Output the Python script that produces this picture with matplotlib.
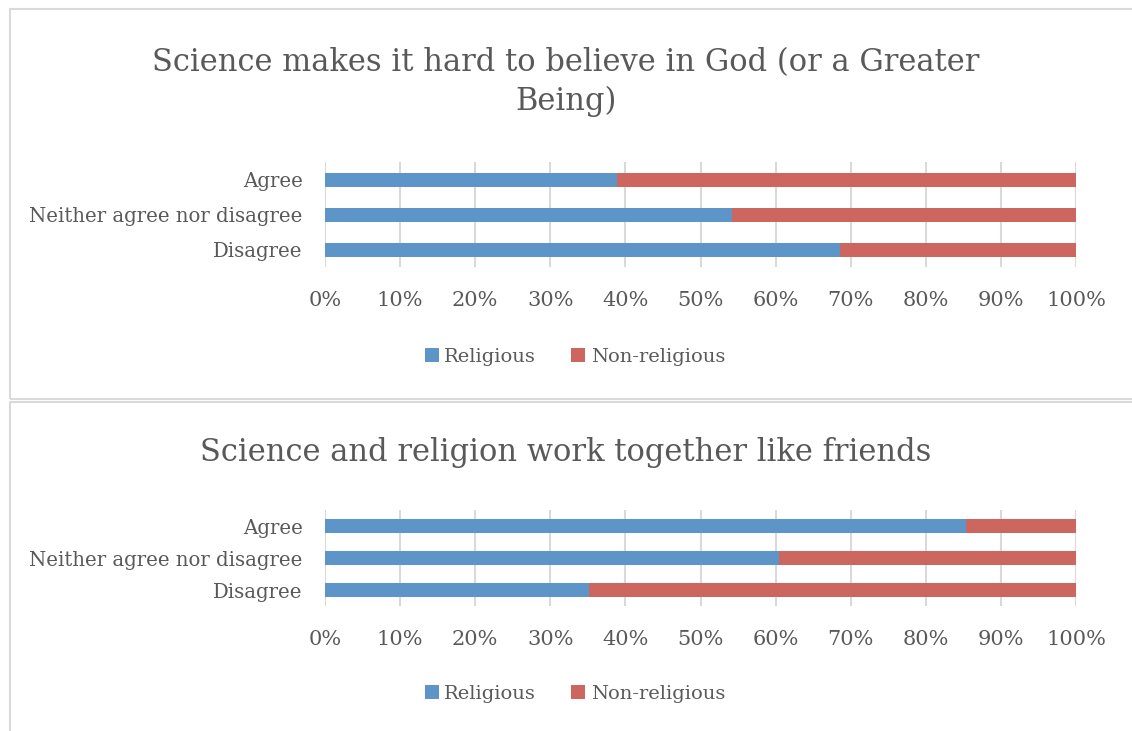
import matplotlib.pyplot as plt
from matplotlib.patches import Rectangle
from matplotlib.ticker import PercentFormatter

# Datos (porcentaje Religious; Non-religious es el resto)
categorias = ['Disagree', 'Neither agree nor disagree', 'Agree']
titulo1 = 'Science makes it hard to believe in God (or a Greater\nBeing)'
religiosos1 = [68.6, 54.2, 38.9]
no_religiosos1 = [31.4, 45.8, 61.1]
titulo2 = 'Science and religion work together like friends'
religiosos2 = [35.2, 60.5, 85.3]
no_religiosos2 = [64.8, 39.5, 14.7]
series = ['Religious', 'Non-religious']
ticks = [0, 10, 20, 30, 40, 50, 60, 70, 80, 90, 100]

azul = '#5E95C9'
rojo = '#CD665E'
gris_texto = '#595959'
gris_linea = '#D9D9D9'
fuente = 'DejaVu Serif'

W, H = 1132, 731
fig = plt.figure(figsize=(W / 100, H / 100), dpi=100)

def px(x, y):
    return x / W, 1 - y / H

# Marcos de los dos graficos
fig.patches.append(Rectangle(px(10, 399), 1.2, (399 - 9) / H, transform=fig.transFigure,
                             fill=False, edgecolor=gris_linea, lw=1.5))
fig.patches.append(Rectangle(px(10, 800), 1.2, (800 - 402) / H, transform=fig.transFigure,
                             fill=False, edgecolor=gris_linea, lw=1.5))

def grafico(top, bottom, relig, norelig, titulo, ty, ly):
    x0, y0 = px(325, bottom)
    ax = fig.add_axes([x0, y0, (1076 - 325) / W, (bottom - top) / H])
    pos = range(len(categorias))
    ax.barh(pos, relig, height=0.42, color=azul, label=series[0], zorder=3)
    ax.barh(pos, norelig, left=relig, height=0.42, color=rojo, label=series[1], zorder=3)
    ax.set_xlim(0, 100)
    ax.set_ylim(-0.5, 2.5)
    ax.set_xticks(ticks)
    ax.xaxis.set_major_formatter(PercentFormatter(decimals=0))
    ax.set_yticks(list(pos))
    ax.set_yticklabels(categorias)
    ax.grid(axis='x', color=gris_linea, lw=1.5, zorder=0)
    for s in ax.spines.values():
        s.set_visible(False)
    ax.tick_params(length=0, labelsize=15, labelcolor=gris_texto)
    ax.tick_params(axis='y', labelsize=14.2, pad=16)
    ax.tick_params(axis='x', pad=17)
    for t in ax.get_xticklabels() + ax.get_yticklabels():
        t.set_fontfamily(fuente)
    fig.text(0.5, 1 - ty / H, titulo, ha='center', va='center', fontsize=22,
             color=gris_texto, family=fuente, linespacing=1.35)
    ax.legend(loc='center', bbox_to_anchor=(575 / W, 1 - ly / H), bbox_transform=fig.transFigure,
              ncol=2, frameon=False, prop={'family': fuente, 'size': 14}, labelcolor=gris_texto,
              handlelength=0.7, handleheight=0.7, handletextpad=0.3, columnspacing=1.8)
    return ax

grafico(162.5, 267.5, religiosos1, no_religiosos1, titulo1, 82, 357)
grafico(510, 606, religiosos2, no_religiosos2, titulo2, 452, 694)

plt.savefig('out.png', dpi=100)
